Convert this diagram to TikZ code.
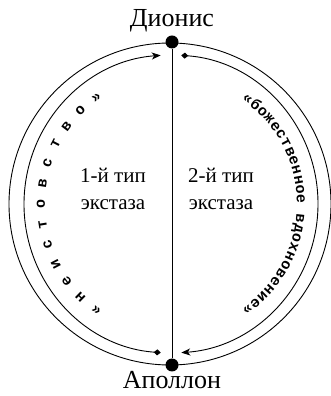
\documentclass[tikz,border=0pt]{standalone}
\usepackage{fontspec}
\setmainfont{LiberationSerif}[Extension=.ttf,UprightFont=*-Regular,BoldFont=*-Bold]
\newfontfamily\serifont{LiberationSerif}[Extension=.ttf,UprightFont=*-Regular,BoldFont=*-Bold]
\newfontfamily\arcfont{LiberationMono}[Extension=.ttf,UprightFont=*-Bold,BoldFont=*-Bold]
\usetikzlibrary{arrows.meta,decorations.text}
\begin{document}
\begin{tikzpicture}[x=1pt,y=1pt,
  dot/.style={circle,fill=black,inner sep=0pt,minimum size=13pt},
  lbl/.style={font=\serifont\fontsize{26}{28}\selectfont,inner sep=0pt},
  typ/.style={font=\serifont\fontsize{21}{24}\selectfont,inner sep=0pt},
  thin/.style={line width=0.9pt},
  flow/.style={line width=0.9pt,{Diamond[length=7pt,width=6pt]}-{Stealth[length=9pt,width=7pt,inset=2.5pt]}},
  arctext/.style={decorate,decoration={text along path,text align={fit to path},text={#1}}}
]
\useasboundingbox (0,0) rectangle (330,396);
\coordinate (C) at (171,192);
\draw[thin] (170,192) circle[radius=161];
\node[dot] (D) at (172,354) {};
\node[dot] (A) at (172,31) {};
\draw[thin] (D) -- (A);
\node[lbl,anchor=base] (DL) at (172,369) {Дионис};
\node[lbl,anchor=base] (AL) at (172,8) {Аполлон};
\node[typ,anchor=base] (t1a) at (113,213) {1-й тип};
\node[typ,anchor=base] (t1b) at (113,186) {экстаза};
\node[typ,anchor=base] (t2a) at (221,213) {2-й тип};
\node[typ,anchor=base] (t2b) at (221,186) {экстаза};
\draw[flow] (C) ++(266:147 and 149) arc[start angle=266,end angle=94,x radius=147,y radius=149];
\draw[flow] (C) ++(86:147 and 149) arc[start angle=86,end angle=-86,x radius=147,y radius=149];
\path[arctext={|\arcfont\fontsize{15}{15}\selectfont|« н е и с т о в с т в о »}] (C) ++(237:126) arc[start angle=237,end angle=123,radius=126];
\path[arctext={|\arcfont\fontsize{15}{15}\selectfont|«божественное вдохновение»}] (C) ++(56:126) arc[start angle=56,end angle=-56,radius=126];
\end{tikzpicture}
\end{document}
